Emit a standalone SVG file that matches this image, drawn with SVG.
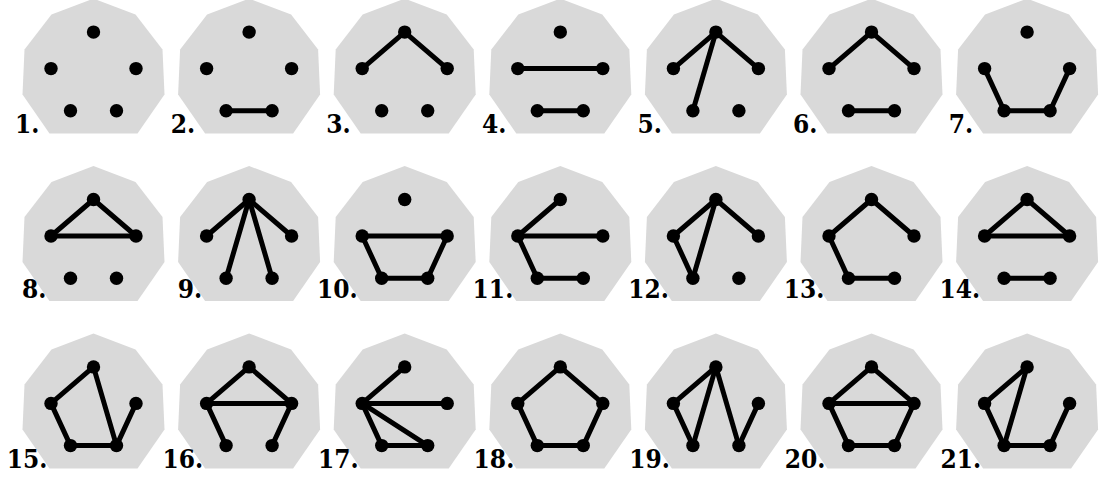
<svg xmlns="http://www.w3.org/2000/svg" xmlns:xlink="http://www.w3.org/1999/xlink" width="1100" height="480" viewBox="0 0 1100 480">
<defs>
<style>
.bg{fill:#d9d9d9}
.d{fill:#000}
.lb{font-family:"DejaVu Serif Condensed","DejaVu Serif","Liberation Serif",serif;font-stretch:condensed;font-weight:bold;font-size:26px;fill:#000;text-anchor:end}
.e{stroke:#000;stroke-width:5;fill:none;stroke-linecap:round}
</style>
<polygon id="shape" points="0,0 42,16 69,51 71,96 44,135 -44,135 -71,96 -69,51 -42,16"/>
<g id="dots">
<circle cx="0" cy="33.5" r="6.7"/>
<circle cx="-42.5" cy="70" r="6.7"/>
<circle cx="42.5" cy="70" r="6.7"/>
<circle cx="-23" cy="112.2" r="6.7"/>
<circle cx="23" cy="112.2" r="6.7"/>
</g>
<path id="TL" d="M0,33.5L-42.5,70"/>
<path id="TR" d="M0,33.5L42.5,70"/>
<path id="TBL" d="M0,33.5L-23,112.2"/>
<path id="TBR" d="M0,33.5L23,112.2"/>
<path id="LR" d="M-42.5,70L42.5,70"/>
<path id="LBL" d="M-42.5,70L-23,112.2"/>
<path id="LBR" d="M-42.5,70L23,112.2"/>
<path id="RBR" d="M42.5,70L23,112.2"/>
<path id="BB" d="M-23,112.2L23,112.2"/>
</defs>
<rect width="1100" height="480" fill="#fff"/>
<g id="p1" transform="translate(93.5,-1.4)"><use href="#shape" class="bg"/><use href="#dots" class="d"/><text class="lb" x="-54" y="134.4">1.</text></g>
<g id="p2" transform="translate(249.1,-1.4)"><use href="#shape" class="bg"/><use href="#dots" class="d"/><text class="lb" x="-54" y="134.4">2.</text></g>
<g id="p3" transform="translate(404.7,-1.4)"><use href="#shape" class="bg"/><use href="#dots" class="d"/><text class="lb" x="-54" y="134.4">3.</text></g>
<g id="p4" transform="translate(560.3,-1.4)"><use href="#shape" class="bg"/><use href="#dots" class="d"/><text class="lb" x="-54" y="134.4">4.</text></g>
<g id="p5" transform="translate(715.9,-1.4)"><use href="#shape" class="bg"/><use href="#dots" class="d"/><text class="lb" x="-54" y="134.4">5.</text></g>
<g id="p6" transform="translate(871.5,-1.4)"><use href="#shape" class="bg"/><use href="#dots" class="d"/><text class="lb" x="-54" y="134.4">6.</text></g>
<g id="p7" transform="translate(1027.1,-1.4)"><use href="#shape" class="bg"/><use href="#dots" class="d"/><text class="lb" x="-54" y="134.4">7.</text></g>
<g id="p8" transform="translate(93.5,166)"><use href="#shape" class="bg"/><use href="#dots" class="d"/><text class="lb" x="-47" y="132">8.</text></g>
<g id="p9" transform="translate(249.1,166)"><use href="#shape" class="bg"/><use href="#dots" class="d"/><text class="lb" x="-47" y="132">9.</text></g>
<g id="p10" transform="translate(404.7,166)"><use href="#shape" class="bg"/><use href="#dots" class="d"/><text class="lb" x="-47" y="132">10.</text></g>
<g id="p11" transform="translate(560.3,166)"><use href="#shape" class="bg"/><use href="#dots" class="d"/><text class="lb" x="-47" y="132">11.</text></g>
<g id="p12" transform="translate(715.9,166)"><use href="#shape" class="bg"/><use href="#dots" class="d"/><text class="lb" x="-47" y="132">12.</text></g>
<g id="p13" transform="translate(871.5,166)"><use href="#shape" class="bg"/><use href="#dots" class="d"/><text class="lb" x="-47" y="132">13.</text></g>
<g id="p14" transform="translate(1027.1,166)"><use href="#shape" class="bg"/><use href="#dots" class="d"/><text class="lb" x="-47" y="132">14.</text></g>
<g id="p15" transform="translate(93.5,333.4)"><use href="#shape" class="bg"/><use href="#dots" class="d"/><text class="lb" x="-46" y="134.6">15.</text></g>
<g id="p16" transform="translate(249.1,333.4)"><use href="#shape" class="bg"/><use href="#dots" class="d"/><text class="lb" x="-46" y="134.6">16.</text></g>
<g id="p17" transform="translate(404.7,333.4)"><use href="#shape" class="bg"/><use href="#dots" class="d"/><text class="lb" x="-46" y="134.6">17.</text></g>
<g id="p18" transform="translate(560.3,333.4)"><use href="#shape" class="bg"/><use href="#dots" class="d"/><text class="lb" x="-46" y="134.6">18.</text></g>
<g id="p19" transform="translate(715.9,333.4)"><use href="#shape" class="bg"/><use href="#dots" class="d"/><text class="lb" x="-46" y="134.6">19.</text></g>
<g id="p20" transform="translate(871.5,333.4)"><use href="#shape" class="bg"/><use href="#dots" class="d"/><text class="lb" x="-46" y="134.6">20.</text></g>
<g id="p21" transform="translate(1027.1,333.4)"><use href="#shape" class="bg"/><use href="#dots" class="d"/><text class="lb" x="-46" y="134.6">21.</text></g>
<g id="connectors" class="e">
<g transform="translate(249.1,-1.4)"><use href="#BB"/></g>
<g transform="translate(404.7,-1.4)"><use href="#TL"/><use href="#TR"/></g>
<g transform="translate(560.3,-1.4)"><use href="#LR"/><use href="#BB"/></g>
<g transform="translate(715.9,-1.4)"><use href="#TL"/><use href="#TR"/><use href="#TBL"/></g>
<g transform="translate(871.5,-1.4)"><use href="#TL"/><use href="#TR"/><use href="#BB"/></g>
<g transform="translate(1027.1,-1.4)"><use href="#LBL"/><use href="#BB"/><use href="#RBR"/></g>
<g transform="translate(93.5,166)"><use href="#TL"/><use href="#TR"/><use href="#LR"/></g>
<g transform="translate(249.1,166)"><use href="#TL"/><use href="#TR"/><use href="#TBL"/><use href="#TBR"/></g>
<g transform="translate(404.7,166)"><use href="#LR"/><use href="#LBL"/><use href="#BB"/><use href="#RBR"/></g>
<g transform="translate(560.3,166)"><use href="#TL"/><use href="#LR"/><use href="#LBL"/><use href="#BB"/></g>
<g transform="translate(715.9,166)"><use href="#TL"/><use href="#TR"/><use href="#TBL"/><use href="#LBL"/></g>
<g transform="translate(871.5,166)"><use href="#TL"/><use href="#TR"/><use href="#LBL"/><use href="#BB"/></g>
<g transform="translate(1027.1,166)"><use href="#TL"/><use href="#TR"/><use href="#LR"/><use href="#BB"/></g>
<g transform="translate(93.5,333.4)"><use href="#TL"/><use href="#LBL"/><use href="#BB"/><use href="#TBR"/><use href="#RBR"/></g>
<g transform="translate(249.1,333.4)"><use href="#TL"/><use href="#TR"/><use href="#LR"/><use href="#LBL"/><use href="#RBR"/></g>
<g transform="translate(404.7,333.4)"><use href="#TL"/><use href="#LR"/><use href="#LBL"/><use href="#LBR"/><use href="#BB"/></g>
<g transform="translate(560.3,333.4)"><use href="#TL"/><use href="#TR"/><use href="#LBL"/><use href="#BB"/><use href="#RBR"/></g>
<g transform="translate(715.9,333.4)"><use href="#TL"/><use href="#LBL"/><use href="#TBL"/><use href="#TBR"/><use href="#RBR"/></g>
<g transform="translate(871.5,333.4)"><use href="#TL"/><use href="#TR"/><use href="#LR"/><use href="#LBL"/><use href="#BB"/><use href="#RBR"/></g>
<g transform="translate(1027.1,333.4)"><use href="#TL"/><use href="#LBL"/><use href="#TBL"/><use href="#BB"/><use href="#RBR"/></g>
</g>
</svg>
